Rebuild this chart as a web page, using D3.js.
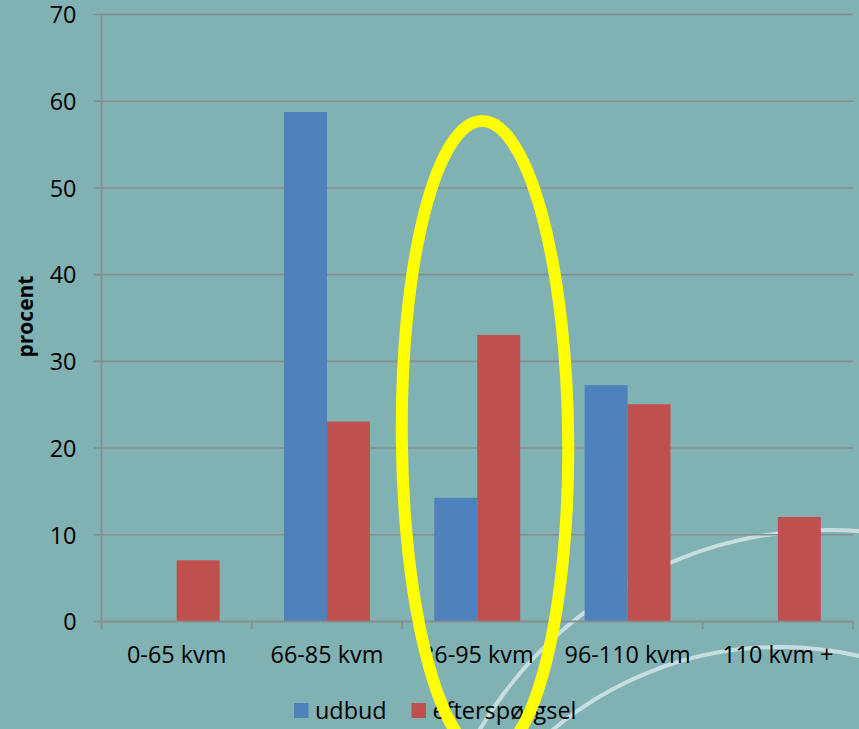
<!DOCTYPE html>
<html>
<head>
<meta charset="utf-8">
<script src="https://cdn.jsdelivr.net/npm/d3@7"></script>
<style>
  html, body { margin: 0; padding: 0; background: #80b1b3; }
  svg { display: block; }
  text { font-family: "Open Sans", sans-serif; fill: #000; }
</style>
</head>
<body>
<svg id="chart" width="859" height="729"></svg>
<script>
// Apartment size brackets
const categories = ["0-65 kvm", "66-85 kvm", "86-95 kvm", "96-110 kvm", "110 kvm +"];
// Share of supply (udbud) and demand (efterspørgsel), in percent
const udbud = [0, 58.7, 14.2, 27.2, 0];
const efterspoergsel = [7, 23, 33, 25, 12];
const seriesNames = ["udbud", "efterspørgsel"];
const seriesColors = ["#4f81bd", "#c0504d"];
const yTicks = [0, 10, 20, 30, 40, 50, 60, 70];

const svg = d3.select("#chart");
const plotLeft = 101.5, plotRight = 853, plotTop = 14, plotBottom = 621;
const labelSize = "23.4px";

// Decorative background arcs
const arcs = svg.append("g");
[[830, 937, 407], [780, 1000, 353]].forEach(([cx, cy, r]) => {
  arcs.append("circle")
    .attr("cx", cx).attr("cy", cy).attr("r", r)
    .attr("fill", "none")
    .attr("stroke", "#d4e6e8")
    .attr("stroke-opacity", 0.85)
    .attr("stroke-width", 4);
});

const x0 = d3.scaleBand().domain(categories).range([plotLeft, plotRight]).padding(0);
const x1 = d3.scaleBand().domain(seriesNames).range([0, x0.bandwidth()])
  .paddingInner(0).paddingOuter(0.75);
const y = d3.scaleLinear().domain([0, 70]).range([plotBottom, plotTop]);

const gridColor = "#898d8e";

// Horizontal gridlines with short tick marks on the left
const gridLen = plotRight - plotLeft + 8;
const yAxis = d3.axisLeft(y).tickValues(yTicks).tickSize(gridLen).tickPadding(17)
  .tickFormat(d3.format("d"));
const gy = svg.append("g").attr("transform", `translate(${plotRight},0)`).call(yAxis);
gy.select(".domain").remove();
gy.selectAll(".tick line").attr("stroke", gridColor).attr("stroke-width", 1.6);
gy.selectAll(".tick text").style("font-size", labelSize).attr("fill", "#000")
  .attr("dy", "0.375em");

// Vertical axis line
svg.append("line").attr("x1", plotLeft).attr("x2", plotLeft)
  .attr("y1", plotTop).attr("y2", plotBottom + 8)
  .attr("stroke", gridColor).attr("stroke-width", 1.6);

// Bars
const data = categories.map((c, i) => ({ cat: c, vals: [udbud[i], efterspoergsel[i]] }));
const groups = svg.append("g").selectAll("g").data(data).join("g")
  .attr("transform", d => `translate(${x0(d.cat)},0)`);
groups.selectAll("rect")
  .data(d => d.vals.map((v, j) => ({ key: seriesNames[j], v, j })))
  .join("rect")
  .attr("x", d => x1(d.key))
  .attr("width", x1.bandwidth())
  .attr("y", d => y(d.v))
  .attr("height", d => y(0) - y(d.v))
  .attr("fill", d => seriesColors[d.j]);

// Category axis
const xAxis = d3.axisBottom(x0).tickSize(0).tickPadding(25.5);
const gx = svg.append("g").attr("transform", `translate(0,${plotBottom})`).call(xAxis);
gx.select(".domain").attr("stroke", gridColor).attr("stroke-width", 1.6);
gx.selectAll(".tick text").style("font-size", labelSize).attr("fill", "#000");
// Tick marks at category boundaries
const bounds = categories.map(c => x0(c)).concat([plotRight]);
gx.selectAll(".bound").data(bounds).join("line").attr("class", "bound")
  .attr("x1", d => d).attr("x2", d => d).attr("y1", 0).attr("y2", 8)
  .attr("stroke", gridColor).attr("stroke-width", 1.6);

// Y axis title
svg.append("text")
  .attr("transform", "translate(32.5,316.5) rotate(-90)")
  .attr("text-anchor", "middle")
  .style("font-size", "21px").style("font-weight", "bold")
  .text("procent");

// Legend
const legendItems = [
  { name: "udbud", color: seriesColors[0], x: 294 },
  { name: "efterspørgsel", color: seriesColors[1], x: 411.5 }
];
const lg = svg.append("g");
legendItems.forEach(it => {
  lg.append("rect").attr("x", it.x).attr("y", 703).attr("width", 14.5).attr("height", 15)
    .attr("fill", it.color);
  lg.append("text").attr("x", it.x + 21).attr("y", 718.5)
    .style("font-size", labelSize).text(it.name);
});

// Highlight ring around the 86-95 kvm group
svg.append("ellipse")
  .attr("cx", 485).attr("cy", 438.5).attr("rx", 83.2).attr("ry", 317.5)
  .attr("transform", "rotate(-0.55 485 438.5)")
  .attr("fill", "none").attr("stroke", "#ffff00").attr("stroke-width", 12);
</script>
</body>
</html>
